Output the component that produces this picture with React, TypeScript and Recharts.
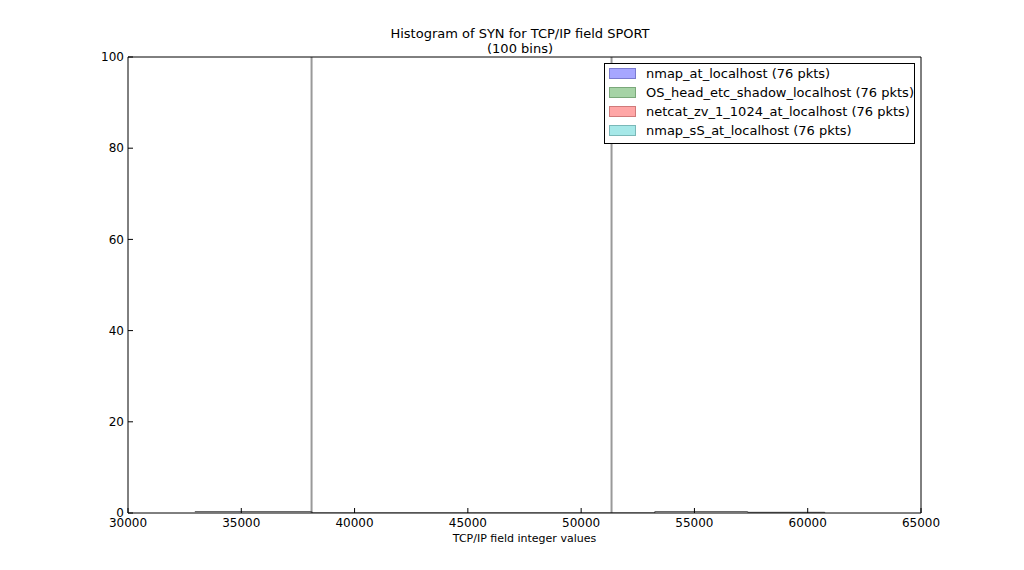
import React from 'react';
import { ComposedChart, Bar, Line, XAxis, YAxis } from 'recharts';

const seriesNames = [
  'nmap_at_localhost (76 pkts)',
  'OS_head_etc_shadow_localhost (76 pkts)',
  'netcat_zv_1_1024_at_localhost (76 pkts)',
  'nmap_sS_at_localhost (76 pkts)',
];
const seriesColors = ['#a6a6ff', '#a6d3a6', '#ffa6a6', '#a6e8e8'];
const seriesEdges = ['#7a7ad0', '#7aa87a', '#d07a7a', '#7ab8b8'];

// tall bins (clipped at the top of the axis)
const spikeX = [38120, 51360];
const spikeCount = [304, 304];

// near-empty bins hugging the baseline
const lowX = [32950, 38120, 53250, 57350, 60750];
const lowCount = [0.3, 0, 0.3, 0.15, 0];

const xTicks = [30000, 35000, 40000, 45000, 50000, 55000, 60000, 65000];
const yTicks = [0, 20, 40, 60, 80, 100];

const spikeData = spikeX.map((x, i) => ({ x, count: spikeCount[i] }));
const lowData = lowX.map((x, i) => ({ x, count: lowCount[i] }));

const font = 'DejaVu Sans, sans-serif';
const tickStyle = { fontSize: 12, fill: '#000', fontFamily: font };

const App: React.FC = () => {
  return (
    <div style={{ position: 'absolute', left: 0, top: 0, width: 1024, height: 570, background: 'white', fontFamily: font }}>
      <div style={{ position: 'absolute', left: 0, width: 1040, top: 26, textAlign: 'center', fontSize: 13, lineHeight: '15px', color: '#000' }}>
        Histogram of SYN for TCP/IP field SPORT
        <br />
        (100 bins)
      </div>
      <ComposedChart
        width={1024}
        height={570}
        data={spikeData}
        margin={{ top: 56, right: 102, bottom: 17, left: 88 }}
      >
        <XAxis
          xAxisId="b"
          dataKey="x"
          type="number"
          domain={[30000, 65000]}
          ticks={xTicks}
          allowDataOverflow
          tick={tickStyle}
          tickSize={-5}
          tickMargin={10}
          height={40}
          stroke="#000"
          label={{ value: 'TCP/IP field integer values', position: 'insideBottom', offset: 11, style: { fontSize: 11, fill: '#000', fontFamily: font } }}
        />
        <XAxis
          xAxisId="t"
          orientation="top"
          type="number"
          domain={[30000, 65000]}
          ticks={xTicks}
          allowDataOverflow
          tick={false}
          tickSize={-5}
          height={1}
          stroke="#000"
        />
        <YAxis
          yAxisId="l"
          type="number"
          domain={[0, 100]}
          ticks={yTicks}
          allowDataOverflow
          tick={tickStyle}
          tickSize={-5}
          tickMargin={9}
          width={40}
          stroke="#000"
        />
        <YAxis
          yAxisId="r"
          orientation="right"
          type="number"
          domain={[0, 100]}
          ticks={yTicks}
          allowDataOverflow
          tick={false}
          tickSize={-5}
          width={1}
          stroke="#000"
        />
        <Bar xAxisId="b" yAxisId="l" dataKey="count" barSize={2} fill="#999" isAnimationActive={false} />
        <Line
          xAxisId="b"
          yAxisId="l"
          data={lowData}
          dataKey="count"
          type="stepAfter"
          stroke="#555"
          strokeWidth={1}
          dot={false}
          isAnimationActive={false}
        />
      </ComposedChart>
      <div
        style={{
          position: 'absolute',
          left: 604,
          top: 63,
          width: 309,
          height: 79,
          border: '1px solid #000',
          background: 'white',
          fontSize: 13,
          color: '#000',
        }}
      >
        {seriesNames.map((name, i) => (
          <div key={name} style={{ position: 'absolute', left: 4, top: 0 + i * 19, height: 19, display: 'flex', alignItems: 'center' }}>
            <span style={{ display: 'inline-block', width: 25, height: 9, background: seriesColors[i], border: `1px solid ${seriesEdges[i]}`, marginRight: 10 }} />
            <span style={{ whiteSpace: 'nowrap' }}>{name}</span>
          </div>
        ))}
      </div>
    </div>
  );
};

export default App;
